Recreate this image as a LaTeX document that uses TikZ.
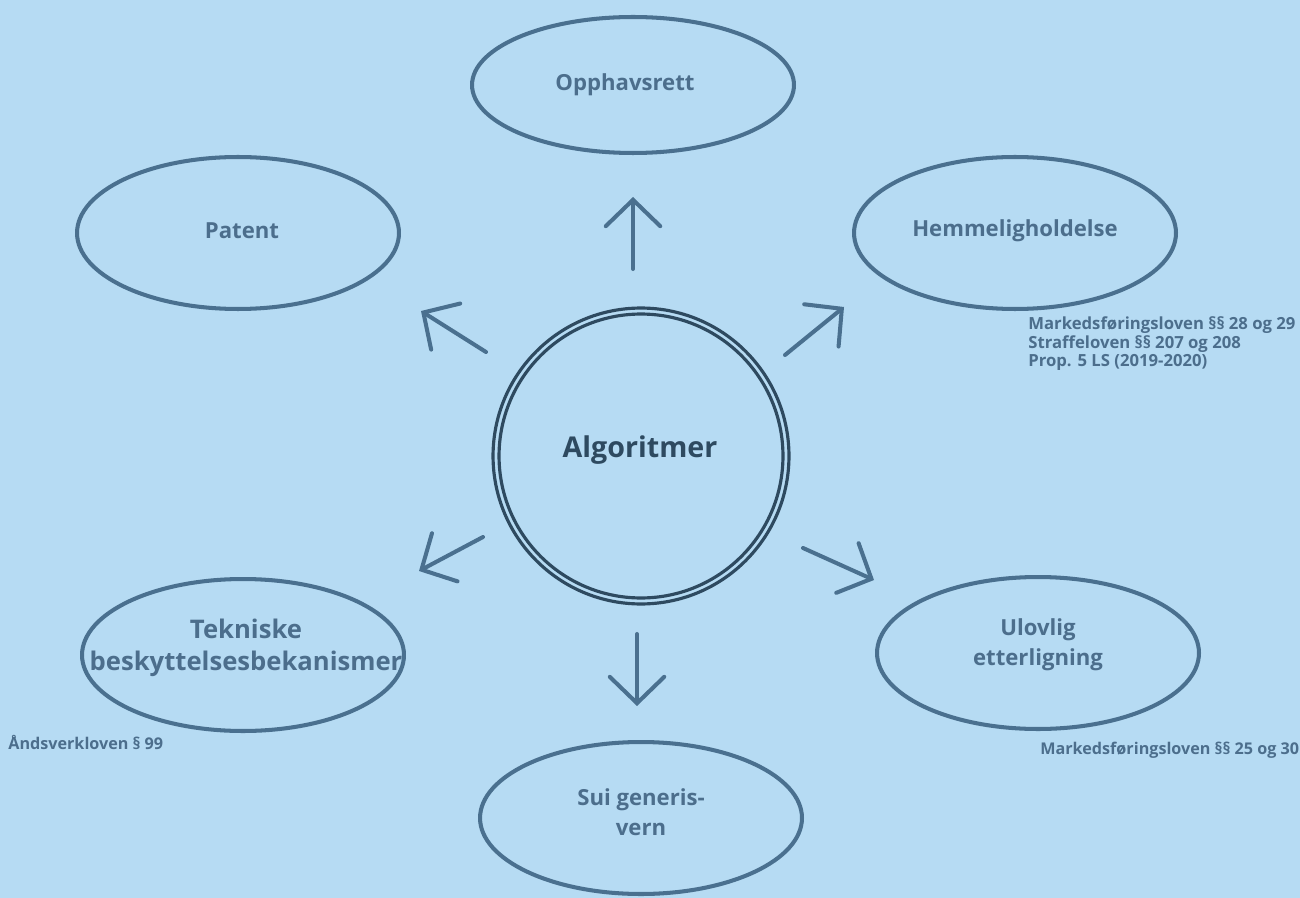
\documentclass[tikz,border=0pt]{standalone}
\usepackage{fontspec}
\setmainfont{Open Sans}
\usetikzlibrary{arrows.meta,shapes.geometric}
\definecolor{bg}{RGB}{182,219,243}
\definecolor{edge}{RGB}{74,112,143}
\definecolor{lab}{RGB}{76,110,140}
\definecolor{dark}{RGB}{46,74,96}
\tikzset{
  oval/.style={draw=edge, line width=2.3pt, ellipse, inner sep=0pt, minimum width=6.44cm, minimum height=3.04cm},
  lbl/.style={text=lab, font=\fontsize{12.6pt}{17pt}\selectfont\bfseries, align=center, inner sep=0pt},
  arr/.style={draw=edge, line width=2.3pt, line cap=round, -{Straight Barb[length=15pt,width=31pt,line cap=round]}},
  note/.style={text=lab, font=\fontsize{9.2pt}{10.5pt}\selectfont\bfseries, align=left, inner sep=0pt, anchor=west}
}
\begin{document}
\begin{tikzpicture}[x=0.02cm,y=-0.02cm]
\fill[bg] (0,0) rectangle (1300,898);
\useasboundingbox (0,0) rectangle (1300,898);
% ellipses
\node[oval, minimum height=2.72cm] (opp) at (633,85) {};
\node[lbl] (oppt) at (625,85) {Opphavsrett};
\node[oval] (pat) at (238,233) {};
\node[lbl] (patt) at (242,231) {Patent};
\node[oval] (hem) at (1015,233) {};
\node[lbl] (hemt) at (1015,231) {Hemmeligholdelse};
\node[oval] (tek) at (243,655) {};
\node[lbl, font=\fontsize{14.6pt}{18.5pt}\selectfont\bfseries] (tekt) at (246,648) {Tekniske\\beskyttelsesbekanismer};
\node[oval] (ulo) at (1038,653) {};
\node[lbl] (ulot) at (1038,645) {Ulovlig\\etterligning};
\node[oval] (sui) at (641,818) {};
\node[lbl] (suit) at (641,812) {Sui generis-\\vern};
% center circle
\node[circle, draw=dark, line width=1.8pt, minimum size=5.92cm, inner sep=0pt] (alg) at (641,456) {};
\node[circle, draw=dark, line width=1.8pt, minimum size=5.68cm, inner sep=0pt] (algi) at (641,456) {};
\node[text=dark, font=\fontsize{16.3pt}{18pt}\selectfont\bfseries, inner sep=0pt] (algt) at (640,450) {Algoritmer};
% arrows
\coordinate (a1s) at (633,269); \coordinate (a1e) at (633,197);
\coordinate (a2s) at (486,352); \coordinate (a2e) at (421,311);
\coordinate (a3s) at (785,355); \coordinate (a3e) at (844,307);
\coordinate (a4s) at (483,537); \coordinate (a4e) at (419,571);
\coordinate (a5s) at (803,548); \coordinate (a5e) at (874,580);
\coordinate (a6s) at (637,634); \coordinate (a6e) at (637,706);
\draw[arr] (a1s) -- (a1e);
\draw[arr] (a2s) -- (a2e);
\draw[arr] (a3s) -- (a3e);
\draw[arr] (a4s) -- (a4e);
\draw[arr] (a5s) -- (a5e);
\draw[arr] (a6s) -- (a6e);
% notes
\node[note, font=\fontsize{9.5pt}{10.5pt}\selectfont\bfseries] (n1) at (1028,344) {Markedsføringsloven §§ 28 og 29\\Straffeloven §§ 207 og 208\\Prop. 5 LS (2019-2020)};
\node[note] (n2) at (8,742) {Åndsverkloven § 99};
\node[note] (n3) at (1040,750) {Markedsføringsloven §§ 25 og 30};
\end{tikzpicture}
\end{document}
